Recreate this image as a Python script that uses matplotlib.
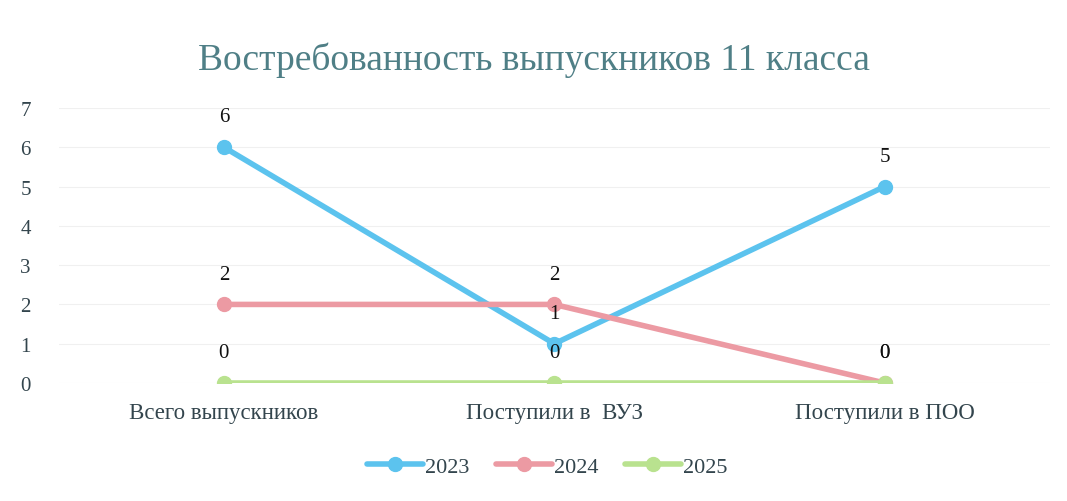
import matplotlib.pyplot as plt

categories = ['Всего выпускников', 'Поступили в  ВУЗ', 'Поступили в ПОО']
years = ['2023', '2024', '2025']
v2023 = [6, 1, 5]
v2024 = [2, 2, 0]
v2025 = [0, 0, 0]
colors = ['#5cc3ee', '#ec9aa3', '#b9e28f']

plt.rcParams['font.family'] = ['Liberation Serif', 'DejaVu Serif']

fig = plt.figure(figsize=(10.67, 5.02), dpi=100)
ax = fig.add_axes([0.055, 0.235, 0.929, 0.548])

x = list(range(len(categories)))
series = [v2023, v2024, v2025]
for name, vals, col in zip(years, series, colors):
    ax.plot(x, vals, color=col, lw=4, marker='o', ms=10, mec=col, mfc=col,
            label=name, solid_capstyle='round', zorder=3)
    for xi, v in zip(x, vals):
        ax.annotate(str(v), (xi, v), xytext=(0, 15), textcoords='offset points',
                    ha='center', va='bottom', fontsize=15, color='#111111', zorder=5)

ax.set_xlim(-0.5, 2.5)
ax.set_ylim(0, 7)
ax.set_yticks(range(0, 8))
ax.set_xticks(x)
ax.set_xticklabels(categories, fontsize=16.5, color='#33454d')
ax.tick_params(axis='y', labelsize=15, labelcolor='#33454d', length=0, pad=20)
ax.tick_params(axis='x', length=0, pad=14)
ax.grid(axis='y', color='#f0f0f0', lw=0.8)
for s in ax.spines.values():
    s.set_visible(False)

fig.suptitle('Востребованность выпускников 11 класса', y=0.915, fontsize=27,
             color='#4f7f86')

fig.legend(loc='center', bbox_to_anchor=(0.513, 0.068), ncol=3, frameon=False,
           fontsize=16, handlelength=2.5, columnspacing=1.2, handletextpad=0.1,
           labelcolor='#33454d')

fig.savefig('out.png', dpi=100)
